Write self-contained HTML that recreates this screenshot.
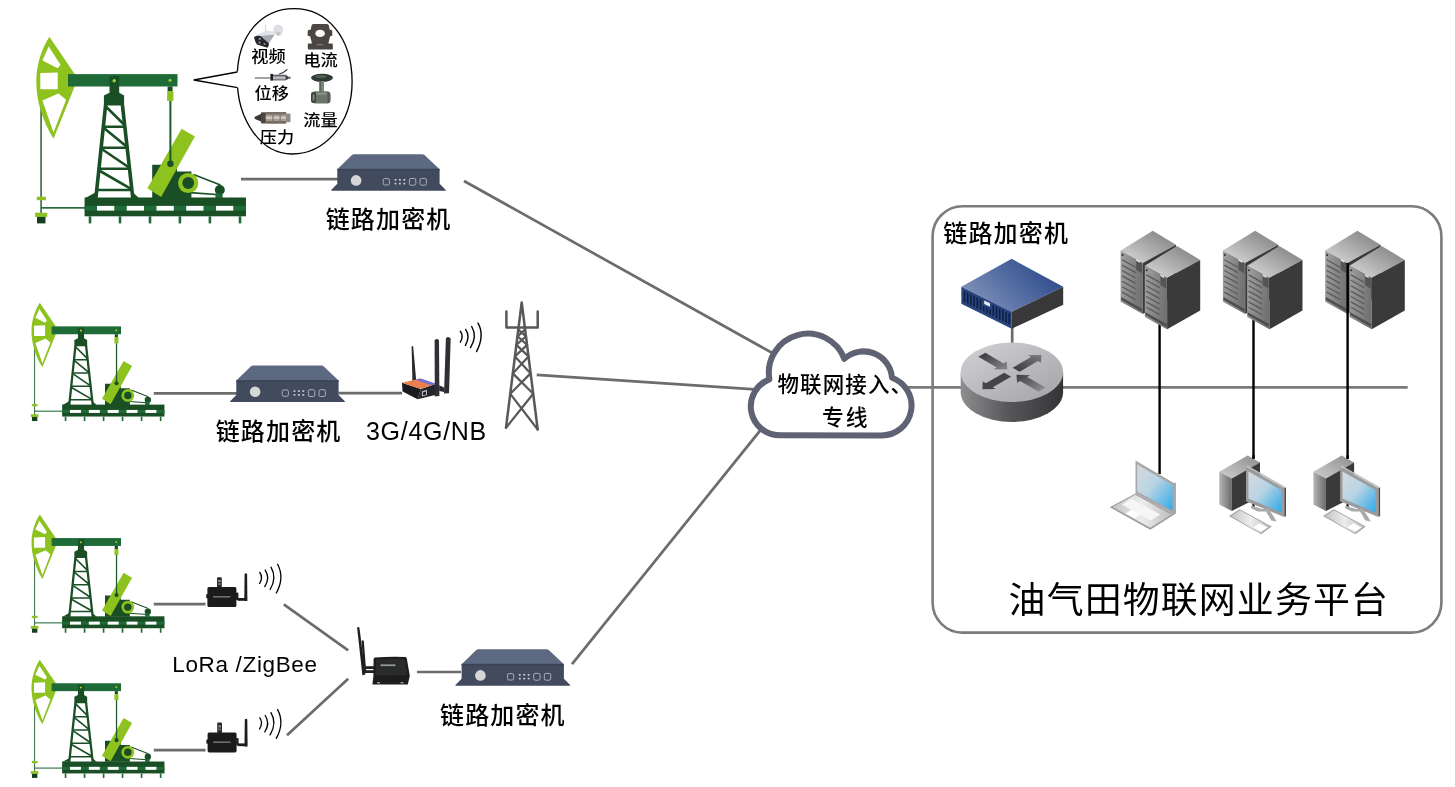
<!DOCTYPE html>
<html lang="zh-CN">
<head>
<meta charset="utf-8">
<title>油气田物联网业务平台</title>
<style>
html,body{margin:0;padding:0;background:#fff;}
body{width:1455px;height:787px;overflow:hidden;position:relative;}
svg{display:block;position:absolute;left:0;top:0;will-change:transform;-webkit-font-smoothing:antialiased;}
.cjk{font-family:"Liberation Sans","Noto Sans CJK SC",sans-serif;fill:#000;font-weight:500;}
.lat{font-family:"Liberation Sans",sans-serif;fill:#000;}
</style>
</head>
<body>
<svg width="1455" height="787" viewBox="0 0 1455 787">
<defs>
<!-- ============ PUMPJACK (drawn in large-size coordinates) ============ -->
<g id="pump">
  <!-- polished rod + wellhead on the left -->
  <rect x="40.2" y="104" width="1.8" height="110" fill="#4a7a58"/>
  <rect x="41" y="207" width="44" height="1.7" fill="#2a6a3c"/>
  <rect x="36.8" y="196.7" width="9.1" height="3.5" fill="#8dc21f"/>
  <rect x="35.1" y="212.7" width="12.2" height="4.2" fill="#8dc21f"/>
  <rect x="37" y="216.9" width="8.5" height="6.5" fill="#14401f"/>
  <!-- horse head -->
  <path fill="#8dc21f" fill-rule="evenodd" d="M49.4 36.8 L74.5 73.8 L74.5 87.1 L53.5 138.7 C42 120 36.3 100 36.3 82 C36.3 64 42 48 49.4 36.8 Z
    M48.7 46.6 L60.5 64.7 L57.7 68.2 L42.4 60.5 Z
    M40.3 73.1 L57.7 72.4 L57.7 89.2 L40.3 89.2 Z
    M42.4 100.4 L58.4 93.4 L66.1 99.7 L53.5 132.4 Z"/>
  <!-- walking beam -->
  <rect x="68" y="74.1" width="109.5" height="12.4" fill="#1e6b37"/>
  <!-- samson post cap -->
  <path fill="#1a4f25" d="M109.5 75.9 H119.2 V92.7 L124.1 95.5 V105.6 H103.9 V95.5 L109.5 92.7 Z"/>
  <circle cx="114.2" cy="80.8" r="1.7" fill="#9fd22a"/>
  <!-- tower -->
  <g stroke="#1a4f25" fill="none">
    <path stroke-width="3.6" d="M105.6 105 L95.9 198 M122.4 105 L132.8 198"/>
    <path stroke-width="2.4" d="M104 126.8 H125 M102 147.7 H127 M99.5 168.7 H129.5 M97 190 H132"/>
    <path stroke-width="2.6" d="M104.8 105.5 L124.5 125 M104.5 128.5 L126.5 146.5 M102.5 149.5 L129 167.5 M100 171 L131 188.8"/>
  </g>
  <path fill="#1a4f25" d="M97 191.5 L85.5 198 H97 Z M131.8 191.5 L139 198 H131.8 Z"/>
  <!-- gearbox -->
  <path fill="#1a4f25" d="M152.2 164.7 H177 V171.5 H191.4 V198 H152.2 Z"/>
  <!-- belt + motor -->
  <path stroke="#1a4f25" stroke-width="1.6" fill="none" d="M193.5 174.6 L220.5 185.1 M190 192.6 L219.5 194.7"/>
  <circle cx="219.8" cy="190" r="5" fill="#1a4f25"/>
  <rect x="215.4" y="193.5" width="7.2" height="4.5" fill="#1e6b37"/>
  <!-- counterweight -->
  <path fill="#8dc21f" d="M181.6 128.8 L194.9 136.6 L161.1 197 L147.4 188.3 Z"/>
  <!-- pitman -->
  <circle cx="170" cy="80.2" r="1.5" fill="#9fd22a"/>
  <rect x="167.6" y="86.5" width="5" height="5" fill="#1a4f25"/>
  <rect x="167.1" y="91.3" width="6.3" height="9.6" fill="#8dc21f"/>
  <rect x="169.4" y="100.9" width="2" height="63" fill="#1d5a2e"/>
  <circle cx="170.4" cy="163.8" r="3.2" fill="#1a4f25"/>
  <!-- pulley -->
  <circle cx="188.2" cy="183" r="10.1" fill="#8dc21f"/>
  <circle cx="188.2" cy="183" r="5.9" fill="#1a4f25"/>
  <!-- base -->
  <rect x="84.6" y="197.5" width="161.4" height="18.8" fill="#1a4f25"/>
  <rect x="84.6" y="205.9" width="161.4" height="4.7" fill="#1e6b37"/>
  <g fill="#fff">
    <rect x="97" y="205.9" width="17.3" height="4.7"/>
    <rect x="126.7" y="205.9" width="17.3" height="4.7"/>
    <rect x="156.5" y="205.9" width="17.3" height="4.7"/>
    <rect x="186.2" y="205.9" width="17.3" height="4.7"/>
    <rect x="216" y="205.9" width="17.3" height="4.7"/>
  </g>
  <g fill="#1e6b37">
    <rect x="88.7" y="216.3" width="2.6" height="7.1"/>
    <rect x="118.7" y="216.3" width="2.6" height="7.1"/>
    <rect x="148.7" y="216.3" width="2.6" height="7.1"/>
    <rect x="178.6" y="216.3" width="2.6" height="7.1"/>
    <rect x="208.6" y="216.3" width="2.6" height="7.1"/>
    <rect x="238.7" y="216.3" width="2.6" height="7.1"/>
  </g>
</g>

<!-- ============ LINK ENCRYPTOR BOX ============ -->
<g id="enc">
  <path fill="#5c6981" d="M23 0 H91.5 Q92.7 0 93.5 0.8 L108.6 15 H6.3 L21 0.8 Q21.8 0 23 0 Z"/>
  <path fill="#424a5e" d="M6.3 15 H108.6 V29.6 L114.6 35.6 Q115.4 36.6 114 36.6 H1 Q-0.4 36.6 0.4 35.6 L6.3 29.6 Z"/>
  <rect x="6.3" y="14.6" width="102.3" height="1.6" fill="#3a4256"/>
  <circle cx="25.1" cy="26.2" r="5.3" fill="#d6d6d8"/>
  <g fill="none" stroke="#b4b8c4" stroke-width="0.9">
    <rect x="52.2" y="24.4" width="6.2" height="6.4" rx="1.6"/>
    <rect x="78.4" y="24.2" width="6.4" height="6.8" rx="1.6"/>
    <rect x="89" y="24.2" width="6.4" height="6.8" rx="1.6"/>
  </g>
  <g fill="#cfd2da">
    <rect x="63.6" y="24.8" width="1.8" height="1.6"/><rect x="68" y="24.8" width="1.8" height="1.6"/><rect x="72.4" y="24.8" width="1.8" height="1.6"/>
    <rect x="63.6" y="28.6" width="1.8" height="1.6"/><rect x="68" y="28.6" width="1.8" height="1.6"/><rect x="72.4" y="28.6" width="1.8" height="1.6"/>
  </g>
</g>

<!-- gradients -->
<linearGradient id="gBlueTop" x1="0.05" y1="0.75" x2="0.95" y2="0.3">
  <stop offset="0" stop-color="#8292ba"/><stop offset="0.5" stop-color="#546ea3"/><stop offset="1" stop-color="#2d4b8a"/>
</linearGradient>
<linearGradient id="gRtTop" x1="0" y1="0" x2="1" y2="1">
  <stop offset="0" stop-color="#d2d2d5"/><stop offset="1" stop-color="#a3a3a7"/>
</linearGradient>
<linearGradient id="gRtSide" x1="0" y1="0" x2="1" y2="0">
  <stop offset="0" stop-color="#8e8e90"/><stop offset="0.45" stop-color="#58585a"/><stop offset="1" stop-color="#343436"/>
</linearGradient>
<linearGradient id="gArr" x1="0" y1="0" x2="1" y2="0">
  <stop offset="0" stop-color="#3e3e40"/><stop offset="1" stop-color="#8a8a8d"/>
</linearGradient>
<linearGradient id="gArrV" x1="0" y1="1" x2="0" y2="0">
  <stop offset="0" stop-color="#3e3e40"/><stop offset="1" stop-color="#7c7c7f"/>
</linearGradient>
<linearGradient id="gSrvTop" x1="0" y1="1" x2="1" y2="0">
  <stop offset="0" stop-color="#dcdcdc"/><stop offset="1" stop-color="#7a7a7b"/>
</linearGradient>
<linearGradient id="gSrvL" x1="0" y1="0" x2="1" y2="0.3">
  <stop offset="0" stop-color="#a2a2a3"/><stop offset="1" stop-color="#727273"/>
</linearGradient>
<linearGradient id="gScr" x1="0" y1="0" x2="1" y2="1">
  <stop offset="0" stop-color="#d6dade"/><stop offset="0.45" stop-color="#b9d4e4"/><stop offset="1" stop-color="#2ea9e8"/>
</linearGradient>
<linearGradient id="gKb" x1="0" y1="0" x2="1" y2="0">
  <stop offset="0" stop-color="#c4c4c5"/><stop offset="0.5" stop-color="#ededee"/><stop offset="1" stop-color="#bdbdbe"/>
</linearGradient>
<linearGradient id="gPcL" x1="0" y1="0" x2="1" y2="0">
  <stop offset="0" stop-color="#b5b5b6"/><stop offset="1" stop-color="#6a6a6b"/>
</linearGradient>
<linearGradient id="gPcTop" x1="0" y1="1" x2="1" y2="0">
  <stop offset="0" stop-color="#cfcfd0"/><stop offset="1" stop-color="#8c8c8d"/>
</linearGradient>

<!-- ============ SERVER PAIR ============ -->
<g id="srv1">
  <path fill="url(#gSrvTop)" d="M32.2 0 L0 19.8 L22.3 32.2 L55.4 14 Z"/>
  <path fill="url(#gSrvL)" d="M0 19.8 L22.3 32.2 V83.4 L0 71 Z"/>
  <path fill="#3a3a3b" d="M22.3 32.2 L55.4 14 V64.6 L22.3 83.4 Z"/>
  <g stroke="#5a5a5b" stroke-width="1.3" fill="none">
    <path d="M1.5 29 L15 36.5 M1.5 34.4 L15 41.9 M1.5 39.8 L15 47.3 M1.5 45.2 L15 52.7 M1.5 50.6 L15 58.1 M1.5 56 L15 63.5 M1.5 61.4 L15 68.9"/>
  </g>
  <path fill="#555556" d="M15.6 29.6 L21.4 32.8 V42.6 L15.6 39.4 Z"/>
  <path fill="#e8e8e8" d="M15.6 28.4 L19.2 30.4 V32 L15.6 30 Z"/>
  <path fill="#4e4e4f" d="M0.6 66.4 L21.8 78.2 V81 L0.6 69.2 Z"/>
  <circle cx="1.9" cy="24.4" r="1" fill="#2c2c2c"/>
</g>
<g id="srvpair">
  <use href="#srv1"/>
  <use href="#srv1" transform="translate(24.2 15.2)"/>
</g>

<!-- ============ DESKTOP PC ============ -->
<g id="pc">
  <path fill="url(#gPcTop)" d="M1247.6 455.4 L1219.3 471.8 L1231.8 478.6 L1260 462.6 Z"/>
  <path fill="url(#gPcL)" d="M1219.3 471.8 L1231.8 478.6 V511 L1219.3 504.4 Z"/>
  <path fill="#3a3a3b" d="M1231.8 478.6 L1260 462.6 V496.8 L1231.8 511 Z"/>
  <rect x="1252.3" y="455" width="2.4" height="4" fill="#000"/>
  <rect x="1252.4" y="499" width="2.2" height="9" fill="#111"/>
  <!-- monitor -->
  <path fill="#4e4e50" d="M1284.2 488.1 L1286 487.2 V516 L1284.2 517.1 Z"/>
  <path fill="#9b9b9d" d="M1246 466.8 L1284.2 488.1 V517.1 L1246 501.2 Z"/>
  <path fill="#bfc0c2" d="M1246 466.8 L1247.8 465.8 L1286 487.2 L1284.2 488.1 Z"/>
  <path fill="url(#gScr)" d="M1248.4 471.6 L1281.4 490 V512.6 L1248.4 498.6 Z"/>
  <!-- stand -->
  <path fill="#a9a9ab" d="M1251 505.6 L1262 509 L1268 508 L1274 517 L1276.6 521.6 L1271.4 520.4 L1266 511.6 L1258 511.4 L1251.4 508.6 Z"/>
  <!-- keyboard -->
  <path fill="#9d9d9e" d="M1239.7 509.2 L1271.6 526.6 L1261.2 534.3 L1229 516 Z"/>
  <path fill="url(#gKb)" d="M1239.9 510.2 L1270 526.6 L1260.6 533.2 L1230.8 516 Z"/>
  <path fill="#fff" d="M1259.5 523.2 L1267.6 527.4 L1261.2 531.6 L1253.2 527.2 Z"/>
</g>
</defs>

<!-- ============ CONNECTION LINES ============ -->
<g id="wires" stroke="#6c6c6c" stroke-width="2.7" fill="none" stroke-linecap="butt">
  <path d="M241 179.1 H338"/>
  <path d="M464 181 L775 354.5"/>
  <path d="M153.8 393.3 H237 M338.6 393.2 H402"/>
  <path d="M536.7 374.9 L755 389.3"/>
  <path d="M153.8 604.2 H205.5 M153.8 750.2 H205.5"/>
  <path d="M283.8 604.3 L348.2 650.4 M287 735.3 L348.2 678.8"/>
  <path d="M417 672 H461"/>
  <path d="M572 664.2 L768 420.8"/>
  <path stroke="#7a7a7a" stroke-linecap="round" d="M907 387.4 H961 M1062 387.4 H1406.6"/>
  <path d="M1012.2 327 V345"/>
</g>

<!-- ============ SPEECH BUBBLE + SENSORS ============ -->
<g id="bubble">
  <path fill="#fff" stroke="#000" stroke-width="1.3" d="M294.1 8.6 C327.1 8.6 352.1 37.4 352.1 81.8 C352.1 125.1 323.4 154 292.1 154 C260.3 154 237.2 119.3 237.2 78.2 C237.2 33.6 262.8 8.6 294.1 8.6 Z"/>
  <path fill="#fff" d="M237.6 71.6 L193.7 80 L237.9 88 L241 87 L241 72 Z"/>
  <path fill="none" stroke="#000" stroke-width="1.3" stroke-linejoin="miter" d="M237.3 72 L193.7 80 L237.6 87.7"/>
  <!-- camera -->
  <g id="cam">
    <rect x="264.9" y="24.4" width="1.4" height="6.6" rx=".6" fill="#d9dade"/>
    <path fill="#dddee2" d="M274.4 25.6 Q278.2 24 281.6 25.8 Q283.6 27.2 283 30.2 L281.4 34.4 Q280 36.4 277.2 35.4 L273.4 32.8 Q272.6 29 274.4 25.6 Z"/>
    <path fill="#c4c6cc" d="M276 31.6 L280.8 32.6 L280 35.2 Q278.4 36 276.6 35 Z"/>
    <path fill="#e3e4e8" d="M255 36 L266.3 30.3 L273.3 31.6 L274.6 34.4 L268.9 43.3 L260.6 36 Z"/>
    <path fill="#a9abb2" d="M260.6 36 L274.6 34.4 L268.9 43.3 Z"/>
    <path fill="#26272c" d="M254 36.9 Q257 35.4 260.6 36 L268.9 43.3 Q269 46 267.4 47.7 L256.9 44.6 Q254.6 40.8 254 36.9 Z"/>
    <circle cx="259.8" cy="38.8" r="1.1" fill="#9a9ea8"/><circle cx="259.6" cy="42.6" r="1.1" fill="#8c9099"/><circle cx="264.6" cy="44" r="1.1" fill="#8c9099"/>
  </g>
  <!-- current transformer -->
  <g id="ct">
    <path fill="#4b4543" d="M311.4 26 Q311.6 24 313.6 24 H326.8 Q328.8 24 329 26 L329.6 29.6 L332.2 30.2 L332.4 35.6 L330 36.6 L328.4 43.6 H332 Q332.8 43.6 332.8 44.6 V48.8 Q332.8 49.6 332 49.6 H308.6 Q307.8 49.6 307.8 48.8 V44.6 Q307.8 43.6 308.6 43.6 H312 L310.2 36.6 L307.6 35.6 L307.8 30.2 L310.8 29.6 Z"/>
    <ellipse cx="320.1" cy="33.4" rx="4.8" ry="3.6" fill="#fbfbfb"/>
    <rect x="316.6" y="44.2" width="6.6" height="1.2" fill="#857f7c"/>
  </g>
  <!-- displacement sensor -->
  <g id="disp">
    <rect x="254.7" y="77.2" width="16" height="1.6" rx=".6" fill="#85878b"/>
    <path stroke="#2f3033" stroke-width="1.2" fill="none" stroke-linecap="round" d="M279.4 74 Q284 72.6 287 69.6"/>
    <rect x="270.4" y="73.9" width="2.6" height="6.7" fill="#1f2023"/>
    <rect x="273" y="74.8" width="12.4" height="5.5" fill="#b9babd"/>
    <rect x="273" y="74.8" width="12.4" height="1.5" fill="#595a5e"/>
    <rect x="273" y="79.2" width="12.4" height="1.2" fill="#6f7074"/>
    <path fill="#3a3b3f" d="M285.4 74.6 L288 76.4 V79 L285.4 80.5 Z"/>
    <rect x="288" y="76.7" width="2.5" height="2" fill="#55565a"/>
  </g>
  <!-- flow meter -->
  <g id="flow">
    <ellipse cx="322" cy="77.8" rx="11" ry="4" fill="#2f3a32"/>
    <ellipse cx="321" cy="76.6" rx="6" ry="1.6" fill="#516152"/>
    <rect x="319.4" y="81" width="4.6" height="11" fill="#7b857a"/>
    <rect x="319.4" y="81" width="1.6" height="11" fill="#58625a"/>
    <path fill="#6b7468" d="M313 92.2 Q313 91.2 315 91.2 H327.8 Q330.7 92.2 330.7 95 V100 Q330.7 102.8 327.8 103.4 H315 Q313 103.4 313 102 Z"/>
    <rect x="316.4" y="92.6" width="10" height="2.2" fill="#8a9387"/>
    <rect x="311" y="92" width="5" height="11" rx="2.2" fill="#3b443c"/>
    <rect x="312.6" y="94.2" width="2" height="6.6" rx="1" fill="#7b857a"/>
    <rect x="327.4" y="92.4" width="2" height="10.4" fill="#4e584f"/>
  </g>
  <!-- pressure transmitter -->
  <g id="press">
    <path fill="#3c3836" d="M254.4 117.8 Q254.4 116.6 256 116.2 L261.2 113.8 V121.6 L256 119.4 Q254.4 119 254.4 117.8 Z"/>
    <rect x="261" y="112.2" width="5" height="11.2" rx=".8" fill="#4d4641"/>
    <rect x="265.8" y="112" width="20.4" height="11.5" rx="1" fill="#a89c91"/>
    <rect x="265.8" y="112" width="20.4" height="2.6" fill="#7b7068"/>
    <rect x="265.8" y="116.4" width="20.4" height="2.6" fill="#cfc6bd"/>
    <rect x="265.8" y="121.2" width="20.4" height="2.3" fill="#6f655e"/>
    <rect x="272.4" y="112" width="1.2" height="11.5" fill="#80756c"/>
    <rect x="279.6" y="112" width="1.2" height="11.5" fill="#80756c"/>
    <rect x="286" y="113.4" width="4.5" height="8.8" rx="1" fill="#8f8b88"/>
  </g>
</g>

<!-- ============ 3G/4G DTU ============ -->
<g id="dtu">
  <path fill="#2a2b30" d="M411.6 346.6 Q412.4 345.6 413.2 346.6 L416.2 380.4 L412.4 381.2 Z"/>
  <path fill="#1b1c20" d="M401.9 382.8 L420.9 388.9 L417.6 399.2 L402.6 391.6 Z"/>
  <path fill="#25262b" d="M420.9 388.9 L435.9 383.8 L437.2 394.5 L417.6 399.2 Z"/>
  <path fill="#ea8050" d="M401.9 382.8 L420.4 378.5 L435.9 383.8 L420.9 388.9 Z"/>
  <path fill="#6e74d4" d="M415.4 379.7 L420.4 378.5 L435.9 383.8 L431.5 385.3 Z"/>
  <path fill="#b5b8be" d="M421.9 391.2 L427 389.8 L427 395 L421.9 396.4 Z"/>
  <path fill="#1c1d21" d="M423 392.4 L426 391.6 L426 394.4 L423 395.2 Z"/>
  <path fill="#2f3036" d="M434.6 340.2 Q436.8 337.6 439 340.2 L439.4 396 L434.8 396.6 Z"/>
  <path fill="#2f3036" d="M445.9 338.2 Q448.4 335.6 450.7 338.6 L449 393.2 L444 393.6 Z"/>
  <path fill="#2a2b30" d="M439.2 385.3 L444 387.4 L444.4 392 L439.2 391 Z"/>
</g>
<!-- radio waves -->
<g fill="none" stroke="#000" stroke-width="1.4" stroke-linecap="round">
  <path d="M460.3 331.3 Q464.1 336 460.3 342.2"/>
  <path d="M465.6 329.4 Q470.5 336.2 465.4 345.3"/>
  <path d="M471.7 326.5 Q477.5 336.5 470.5 347.7"/>
  <path d="M478 323.1 Q485 335.5 476.5 351.6"/>
</g>
<g fill="none" stroke="#000" stroke-width="1.3" stroke-linecap="round" id="wv2">
  <path d="M259.8 572.5 Q263.3 577.4 259.6 583.5"/>
  <path d="M265.2 570.1 Q270.4 577.8 264.8 586.6"/>
  <path d="M271 567.2 Q277.2 577.8 270.1 589.5"/>
  <path d="M277.6 564.2 Q284.8 577.6 276.3 593"/>
</g>
<use href="#wv2" transform="translate(0 145.4)"/>

<!-- ============ CELL TOWER ============ -->
<g fill="none" stroke="#585858" stroke-width="2.5" stroke-linejoin="round" stroke-linecap="round">
  <path d="M506 427.7 L521.7 302.5 L537.7 429.5"/>
  <path d="M506.4 311.4 V327.6 H537.7 V311.4"/>
  <path stroke-width="2.2" d="M506 427.7 L533.2 393.8 M537.7 429.5 L510.3 393.8 L530.6 373.4 M533.2 393.8 L512.8 373.4 L528.5 356.4 M530.6 373.4 L515 356.4 L527.1 344.9 M528.5 356.4 L516.4 344.9 L526 336.3 M527.1 344.9 L517.5 336.3 L525.1 329.7 M526 336.3 L518.3 329.7"/>
</g>

<!-- ============ CLOUD ============ -->
<path fill="#fff" stroke="#5f6272" stroke-width="6" stroke-linejoin="round" d="M779.7 435.3 A28.9 28.9 0 0 1 769.4 379.4 A39 39 0 0 1 844.3 358.9 A28.5 28.5 0 0 1 892 377.8 A29.7 29.7 0 0 1 881.9 435.4 Z"/>

<!-- ============ LORA NODES ============ -->
<g id="node">
  <rect x="217" y="577.2" width="4.8" height="10.4" rx="1" fill="#2a2a2a"/>
  <rect x="218" y="580" width="2.8" height="2" fill="#8a8a8a"/><rect x="218" y="583.2" width="2.8" height="1.6" fill="#777"/>
  <rect x="206.2" y="594" width="2" height="4.4" rx=".8" fill="#1c1c1c"/>
  <rect x="236" y="592.6" width="2.4" height="7.4" rx=".8" fill="#1c1c1c"/>
  <rect x="207.4" y="587" width="29" height="20" rx="1.6" fill="#1b1b1b"/>
  <rect x="213" y="596" width="17.4" height="1.6" fill="#6f6f6f"/>
  <rect x="237.5" y="598" width="9" height="2.8" fill="#1c1c1c"/>
  <path fill="#1c1c1c" d="M244.6 574 Q245.9 572.6 247.1 574 L247.4 601 H244.3 Z"/>
</g>
<use href="#node" transform="translate(0.2 145.4)"/>

<!-- ============ LORA GATEWAY ============ -->
<g id="gw">
  <path fill="#1e1e1f" d="M357.1 627.6 Q358.2 626.4 359.4 627.6 L365.4 674.6 L362.4 675.2 Z"/>
  <path fill="#1e1e1f" d="M361.6 640.8 Q362.7 639.6 363.8 640.8 L366.2 671.8 L363.6 672.2 Z"/>
  <rect x="364" y="666.2" width="10" height="2.8" fill="#222"/>
  <rect x="364" y="670.2" width="10" height="2.8" fill="#222"/>
  <path fill="#1d1d1e" d="M375 657.6 Q389 656.4 405.4 657 Q406.6 657.2 406.8 658.4 L409.8 676 L407.8 684.4 H372.4 L373.4 676 L373.6 659 Q373.8 657.8 375 657.6 Z"/>
  <path fill="#2a2b2d" d="M376 659.4 L404.6 658.8 L407.4 675 L375.4 675.6 Z"/>
  <rect x="380.5" y="664.4" width="15" height="1.7" fill="#9a9a9a"/>
  <rect x="377" y="682" width="3" height="1.4" fill="#999"/><rect x="400.5" y="682" width="3" height="1.4" fill="#999"/>
</g>

<!-- pumpjacks -->
<use href="#pump"/>
<use href="#pump" transform="translate(8.5 279.4) scale(0.634)"/>
<use href="#pump" transform="translate(8.5 491.1) scale(0.634)"/>
<use href="#pump" transform="translate(8.5 636.3) scale(0.634)"/>

<!-- encryptors -->
<use href="#enc" transform="translate(331 154.2)"/>
<use href="#enc" transform="translate(230 365.5)"/>
<use href="#enc" transform="translate(455.3 649.2)"/>

<!-- ============ PLATFORM BOX ============ -->
<rect x="932.6" y="206.2" width="508.8" height="426.4" rx="30" ry="30" fill="none" stroke="#7c7c7c" stroke-width="2.6"/>
<!-- vertical black lines -->
<g stroke="#000" stroke-width="2.4" fill="none">
  <path d="M1159.6 300 V474"/>
  <path d="M1253.5 300 V458"/>
</g>

<!-- blue encryptor -->
<g id="bluebox">
  <path fill="url(#gBlueTop)" d="M1011.7 258.8 L961.3 286.8 L1011.7 311.8 L1063.2 286.8 Z"/>
  <path fill="#28447f" d="M961.3 286.8 L1011.7 311.8 V328.8 L961.3 303.8 Z"/>
  <path fill="#38383a" d="M1011.7 311.8 L1063.2 286.8 V304.8 L1011.7 328.8 Z"/>
  <g stroke="#0f1d3c" stroke-width="1.5" fill="none">
    <path d="M964.5 291 v11 M967.7 292.6 v11 M970.9 294.2 v11 M974.1 295.8 v11 M977.3 297.4 v11 M980.5 299 v11 M983.7 306 v5.6 M986.9 307.6 v5.6 M990.1 309.2 v5.6 M993.3 305.3 v11 M996.5 306.9 v11 M999.7 308.5 v11 M1002.9 310.1 v11 M1006.1 311.7 v11 M1009.3 313.3 v11"/>
  </g>
  <path fill="#e9edf3" d="M984.2 300.4 L990 303.2 V306.8 L984.2 304 Z"/>
</g>

<!-- router -->
<g id="router">
  <path fill="url(#gRtSide)" d="M960.7 372.2 V392.2 A51.2 29.7 0 0 0 1063.1 392.2 V372.2 Z"/>
  <ellipse cx="1011.9" cy="372.2" rx="51.2" ry="29.7" fill="url(#gRtTop)"/>
  <g transform="translate(1011.9 372.2) scale(1 0.58) rotate(45)">
    <path fill="url(#gArr)" d="M-42.5 -4.9 H-16.6 V-9.2 L-6.4 0 L-16.6 9.2 V4.9 H-42.5 Z"/>
    <path fill="url(#gArr)" d="M42.5 -4.9 H16.6 V-9.2 L6.4 0 L16.6 9.2 V4.9 H42.5 Z"/>
    <path fill="url(#gArrV)" d="M-4.9 -6 V-32 H-9.2 L0 -41.7 L9.2 -32 H4.9 V-6 Z"/>
    <path fill="#454547" d="M-4.9 6 V32 H-9.2 L0 41.7 L9.2 32 H4.9 V6 Z"/>
  </g>
</g>

<!-- servers -->
<use href="#srvpair" transform="translate(1120.6 230.7)"/>
<use href="#srvpair" transform="translate(1222.9 230.7)"/>
<use href="#srvpair" transform="translate(1325.2 230.7)"/>
<path stroke="#000" stroke-width="2.4" d="M1347.6 263 V458"/>

<!-- laptop -->
<g id="laptop">
  <path fill="#77777a" d="M1174.3 483.2 L1175.6 482.6 V513.6 L1174.3 514.4 Z"/>
  <path fill="#a9a9ab" d="M1135.5 460.5 L1174.3 483.2 V514.4 L1135.5 493.5 Z"/>
  <path fill="url(#gScr)" d="M1137.2 464.6 L1172.6 485.2 V510.6 L1137.2 491.4 Z"/>
  <path fill="#9c9c9e" d="M1135.5 493.4 L1174.3 514.6 L1150.3 529.7 L1109.7 507.2 Z"/>
  <path fill="url(#gKb)" d="M1135.3 494.8 L1171.6 514.6 L1150.3 527.8 L1112.6 507 Z"/>
  <path fill="#f6f6f6" d="M1131.2 498.8 L1160.2 514.6 L1150.8 520.4 L1121.8 504.4 Z"/>
  <path fill="#fdfdfd" d="M1131.6 509.8 L1140.4 514.6 L1134.6 518.4 L1125.6 513.4 Z"/>
</g>

<!-- desktops -->
<use href="#pc"/>
<use href="#pc" transform="translate(94.1 0)"/>

<!-- ============ TEXT ============ -->
<text class="cjk" x="325.7" y="227.5" font-size="24" letter-spacing="1.15">链路加密机</text>
<text class="cjk" x="215.7" y="439.7" font-size="24" letter-spacing="1.15">链路加密机</text>
<text class="cjk" x="440" y="723.9" font-size="24" letter-spacing="1.15">链路加密机</text>
<text class="cjk" x="943.3" y="242.2" font-size="24" letter-spacing="1.15">链路加密机</text>
<text class="lat" x="366" y="440.4" font-size="25" letter-spacing="0.7">3G/4G/NB</text>
<text class="lat" x="172.3" y="671.6" font-size="22.5" letter-spacing="0.65">LoRa /ZigBee</text>
<text class="cjk" x="777.5" y="392" font-size="21.5" letter-spacing="1.1">物联网接入、</text>
<text class="cjk" x="822" y="424.6" font-size="21.8" letter-spacing="2">专线</text>
<text class="cjk" x="1008.6" y="613.4" font-size="36.9" letter-spacing="1.15" style="font-weight:400">油气田物联网业务平台</text>
<g class="cjk" font-size="17.2">
  <text transform="translate(251.2 62.4) scale(1 .92)">视频</text>
  <text transform="translate(303.4 65.5) scale(1 .92)">电流</text>
  <text transform="translate(254.6 99.4) scale(1 .92)">位移</text>
  <text transform="translate(303.2 125.8) scale(1 .92)">流量</text>
  <text transform="translate(259.8 142.8) scale(1 .92)">压力</text>
</g>
</svg>
</body>
</html>
